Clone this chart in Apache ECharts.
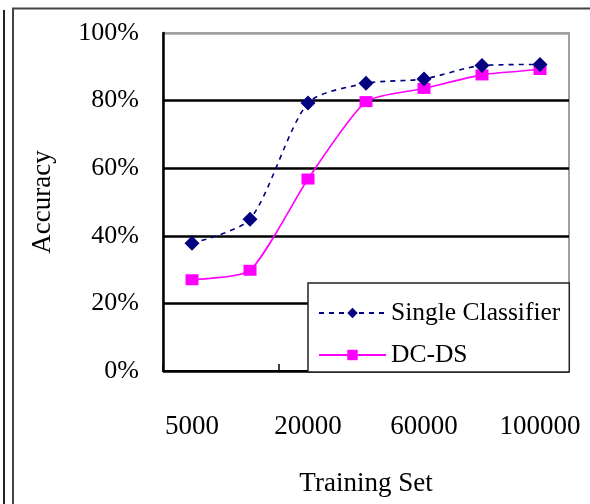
<!DOCTYPE html>
<html>
<head>
<meta charset="utf-8">
<script src="https://cdn.jsdelivr.net/npm/echarts@6/dist/echarts.min.js"></script>
<style>
  html, body { margin: 0; padding: 0; background: #fff; }
  #chart { width: 590px; height: 504px; }
</style>
</head>
<body>
<div id="chart"></div>
<script>
// Training set sizes along the x axis
const trainingSizes = ['5000', '10000', '20000', '40000', '60000', '80000', '100000'];
// Accuracy (%) for each approach
const singleClassifier = [37.8, 44.9, 79.3, 85.1, 86.4, 90.4, 90.7];
const dcds = [27.0, 29.8, 56.8, 79.7, 83.6, 87.6, 89.2];
// Y axis range and step (%)
const yMin = 0, yMax = 100, yStep = 20;

const FONT = '"Liberation Serif", "DejaVu Serif", serif';

const chart = echarts.init(document.getElementById('chart'), null, { renderer: 'canvas' });

chart.setOption({
  backgroundColor: '#ffffff',
  animation: false,
  textStyle: { fontFamily: FONT, color: '#000' },
  grid: {
    left: 163, top: 33, right: 21, bottom: 133,
    outerBoundsMode: 'none',
    containLabel: false,
    show: true, borderColor: '#a0a0a0', borderWidth: 2, backgroundColor: 'transparent'
  },
  legend: {
    orient: 'vertical',
    left: 308, top: 283,
    padding: [17, 9, 4, 10],
    itemGap: 16,
    itemWidth: 67,
    itemHeight: 13,
    backgroundColor: '#fff',
    borderColor: '#222',
    borderWidth: 1.5,
    borderRadius: 0,
    z: 10,
    textStyle: { fontFamily: FONT, fontSize: 25.5, color: '#000', lineHeight: 25 },
    data: ['Single Classifier', 'DC-DS']
  },
  xAxis: {
    type: 'category',
    data: trainingSizes,
    boundaryGap: true,
    name: 'Training Set',
    nameLocation: 'middle',
    nameGap: 99,
    nameTextStyle: { fontFamily: FONT, fontSize: 27, color: '#000' },
    axisLine: { show: true, lineStyle: { color: '#000', width: 2 } },
    axisTick: { show: true, inside: true, length: 7, interval: 1, alignWithLabel: false, lineStyle: { color: '#000', width: 1.5 } },
    axisLabel: { interval: 1, margin: 42, fontFamily: FONT, fontSize: 27, color: '#000' },
    splitLine: { show: false }
  },
  yAxis: {
    type: 'value',
    min: yMin, max: yMax, interval: yStep,
    name: 'Accuracy',
    nameLocation: 'middle',
    nameGap: 107,
    nameTextStyle: { fontFamily: FONT, fontSize: 27, color: '#000' },
    axisLine: { show: true, lineStyle: { color: '#000', width: 2.5 } },
    axisTick: { show: false },
    axisLabel: { margin: 24, fontFamily: FONT, fontSize: 26, color: '#000', formatter: '{value}%' },
    splitLine: { show: true, lineStyle: { color: ['#000', '#000', '#000', '#000', '#000', '#a0a0a0'], width: 2.5 } }
  },
  series: [
    {
      name: 'Single Classifier',
      type: 'line',
      data: singleClassifier,
      smooth: 0.25,
      symbol: 'diamond',
      symbolSize: 15,
      itemStyle: { color: '#000080' },
      lineStyle: { color: '#000080', width: 1.6, type: [5, 5] },
      z: 3
    },
    {
      name: 'DC-DS',
      type: 'line',
      data: dcds,
      smooth: 0.2,
      symbol: 'rect',
      symbolSize: [13, 11],
      itemStyle: { color: '#ff00ff' },
      lineStyle: { color: '#ff00ff', width: 1.6 },
      z: 2
    }
  ],
  graphic: [
    { type: 'line', shape: { x1: 4, y1: 10, x2: 4, y2: 504 }, style: { stroke: '#222', lineWidth: 2 }, silent: true },
    { type: 'polyline', shape: { points: [[13, 504], [13, 8.5], [590, 8.5]] }, style: { stroke: '#444', lineWidth: 2, fill: null }, silent: true }
  ]
});
</script>
</body>
</html>
